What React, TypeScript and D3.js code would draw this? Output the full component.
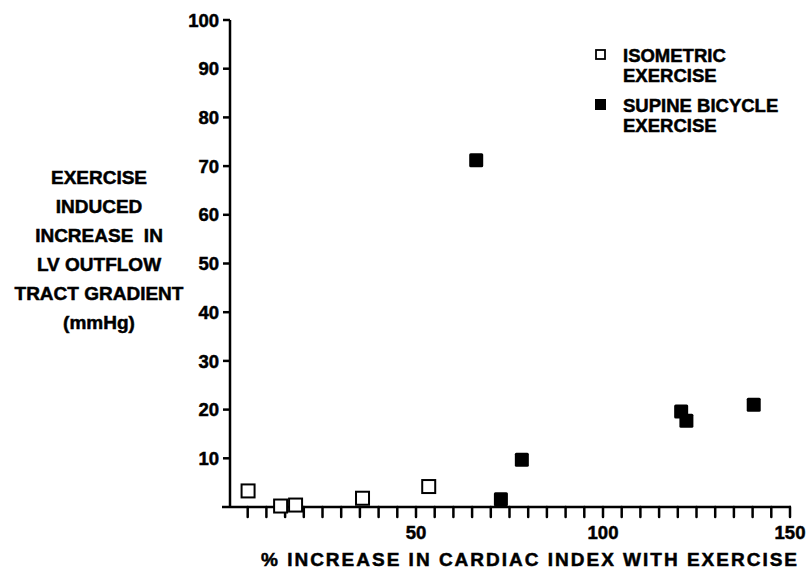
import React, { useRef, useEffect } from "react";
import * as d3 from "d3";

// values
const isometricX = [5.1, 13.8, 17.8, 35.7, 53.4];
const isometricY = [3.3, 0.2, 0.4, 1.8, 4.2];
const bicycleX = [66.1, 72.7, 78.3, 120.9, 122.3, 140.3];
const bicycleY = [71.2, 1.6, 9.7, 19.6, 17.7, 21.0];

const yTicks = [10, 20, 30, 40, 50, 60, 70, 80, 90, 100];
const xMinorTicks = d3.range(5, 151, 5);
const xLabels = [50, 100, 150];

const yTitle = [
  "EXERCISE",
  "INDUCED",
  "INCREASE  IN",
  "LV OUTFLOW",
  "TRACT GRADIENT",
  "(mmHg)",
];
const xTitle = "% INCREASE IN CARDIAC INDEX WITH EXERCISE";
const legendItems = [
  { lines: ["ISOMETRIC", "EXERCISE"], filled: false },
  { lines: ["SUPINE BICYCLE", "EXERCISE"], filled: true },
];

const FONT = "'Liberation Sans', Arial, Helvetica, sans-serif";

function App() {
  const ref = useRef<SVGSVGElement>(null);

  useEffect(() => {
    const svg = d3.select(ref.current);
    svg.selectAll("*").remove();

    const x = d3.scaleLinear().domain([0, 150]).range([229, 790]);
    const y = d3.scaleLinear().domain([0, 100]).range([507, 20]);
    const size = 13;

    const g = svg
      .append("g")
      .style("font-family", FONT)
      .style("font-weight", "bold")
      .attr("fill", "#000");

    // heavier strokes on text, like the printed figure
    const heavy = (sel: any) => sel.attr("stroke", "#000").attr("stroke-width", 0.5);

    // y axis
    g.append("line")
      .attr("x1", x(0) + 1)
      .attr("x2", x(0) + 1)
      .attr("y1", y(100))
      .attr("y2", y(0) + 1)
      .attr("stroke", "#000")
      .attr("stroke-width", 2.5);

    g.selectAll(".ytick")
      .data(yTicks)
      .enter()
      .append("line")
      .attr("x1", x(0) - 6)
      .attr("x2", x(0) + 1)
      .attr("y1", (d) => y(d))
      .attr("y2", (d) => y(d))
      .attr("stroke", "#000")
      .attr("stroke-width", 2.5);

    g.selectAll(".ylab")
      .data(yTicks)
      .enter()
      .append("text")
      .attr("x", x(0) - 10)
      .attr("y", (d) => y(d))
      .attr("dy", "0.36em")
      .attr("text-anchor", "end")
      .style("font-size", "18.5px")
      .call(heavy)
      .text((d) => d);

    // x axis
    g.append("line")
      .attr("x1", x(0) - 7)
      .attr("x2", x(150) + 1)
      .attr("y1", y(0))
      .attr("y2", y(0))
      .attr("stroke", "#000")
      .attr("stroke-width", 2.5);

    g.selectAll(".xtick")
      .data(xMinorTicks)
      .enter()
      .append("line")
      .attr("x1", (d) => x(d))
      .attr("x2", (d) => x(d))
      .attr("y1", y(0))
      .attr("y2", y(0) + 10)
      .attr("stroke", "#000")
      .attr("stroke-width", 2.5)
      .attr("stroke-linecap", "round");

    g.selectAll(".xlab")
      .data(xLabels)
      .enter()
      .append("text")
      .attr("x", (d) => x(d))
      .attr("y", 539)
      .attr("text-anchor", "middle")
      .style("font-size", "18.5px")
      .call(heavy)
      .text((d) => d);

    g.append("text")
      .attr("x", 530)
      .attr("y", 566)
      .attr("text-anchor", "middle")
      .style("font-size", "19px")
      .style("letter-spacing", "2px")
      .call(heavy)
      .text(xTitle);

    // y title
    g.selectAll(".ytitle")
      .data(yTitle)
      .enter()
      .append("text")
      .attr("x", 99)
      .attr("y", (d, i) => 184 + i * 29)
      .attr("text-anchor", "middle")
      .style("font-size", "19px")
      .style("white-space", "pre")
      .call(heavy)
      .text((d) => d);

    // points
    const iso = isometricX.map((v, i) => [v, isometricY[i]]);
    const bike = bicycleX.map((v, i) => [v, bicycleY[i]]);

    g.selectAll(".iso")
      .data(iso)
      .enter()
      .append("rect")
      .attr("x", (d) => x(d[0]) - size / 2)
      .attr("y", (d) => y(d[1]) - size / 2)
      .attr("width", size)
      .attr("height", size)
      .attr("fill", "#fff")
      .attr("stroke", "#000")
      .attr("stroke-width", 2);

    g.selectAll(".bike")
      .data(bike)
      .enter()
      .append("rect")
      .attr("x", (d) => x(d[0]) - size / 2 - 0.5)
      .attr("y", (d) => y(d[1]) - size / 2 - 0.5)
      .attr("width", size + 1)
      .attr("height", size + 1)
      .attr("rx", 1.5)
      .attr("fill", "#000");

    // legend
    const legend = g
      .selectAll(".legend")
      .data(legendItems)
      .enter()
      .append("g")
      .attr("transform", (d, i) => `translate(595,${49 + i * 50})`);

    legend
      .append("rect")
      .attr("x", (d) => (d.filled ? 0 : 1))
      .attr("y", (d) => (d.filled ? 0 : 1))
      .attr("width", (d) => (d.filled ? 11 : 9))
      .attr("height", (d) => (d.filled ? 11 : 9))
      .attr("fill", (d) => (d.filled ? "#000" : "#fff"))
      .attr("stroke", (d) => (d.filled ? "none" : "#000"))
      .attr("stroke-width", 1.8);

    legend.each(function (d) {
      d3.select(this)
        .selectAll("text")
        .data(d.lines)
        .enter()
        .append("text")
        .attr("x", 28)
        .attr("y", (t, i) => 13 + i * 20)
        .style("font-size", "18.5px")
        .call(heavy)
        .text((t) => t);
    });
  }, []);

  return (
    <svg
      ref={ref}
      width={809}
      height={571}
      style={{ position: "absolute", left: 0, top: 0, background: "#fff" }}
    ></svg>
  );
}

export default App;
